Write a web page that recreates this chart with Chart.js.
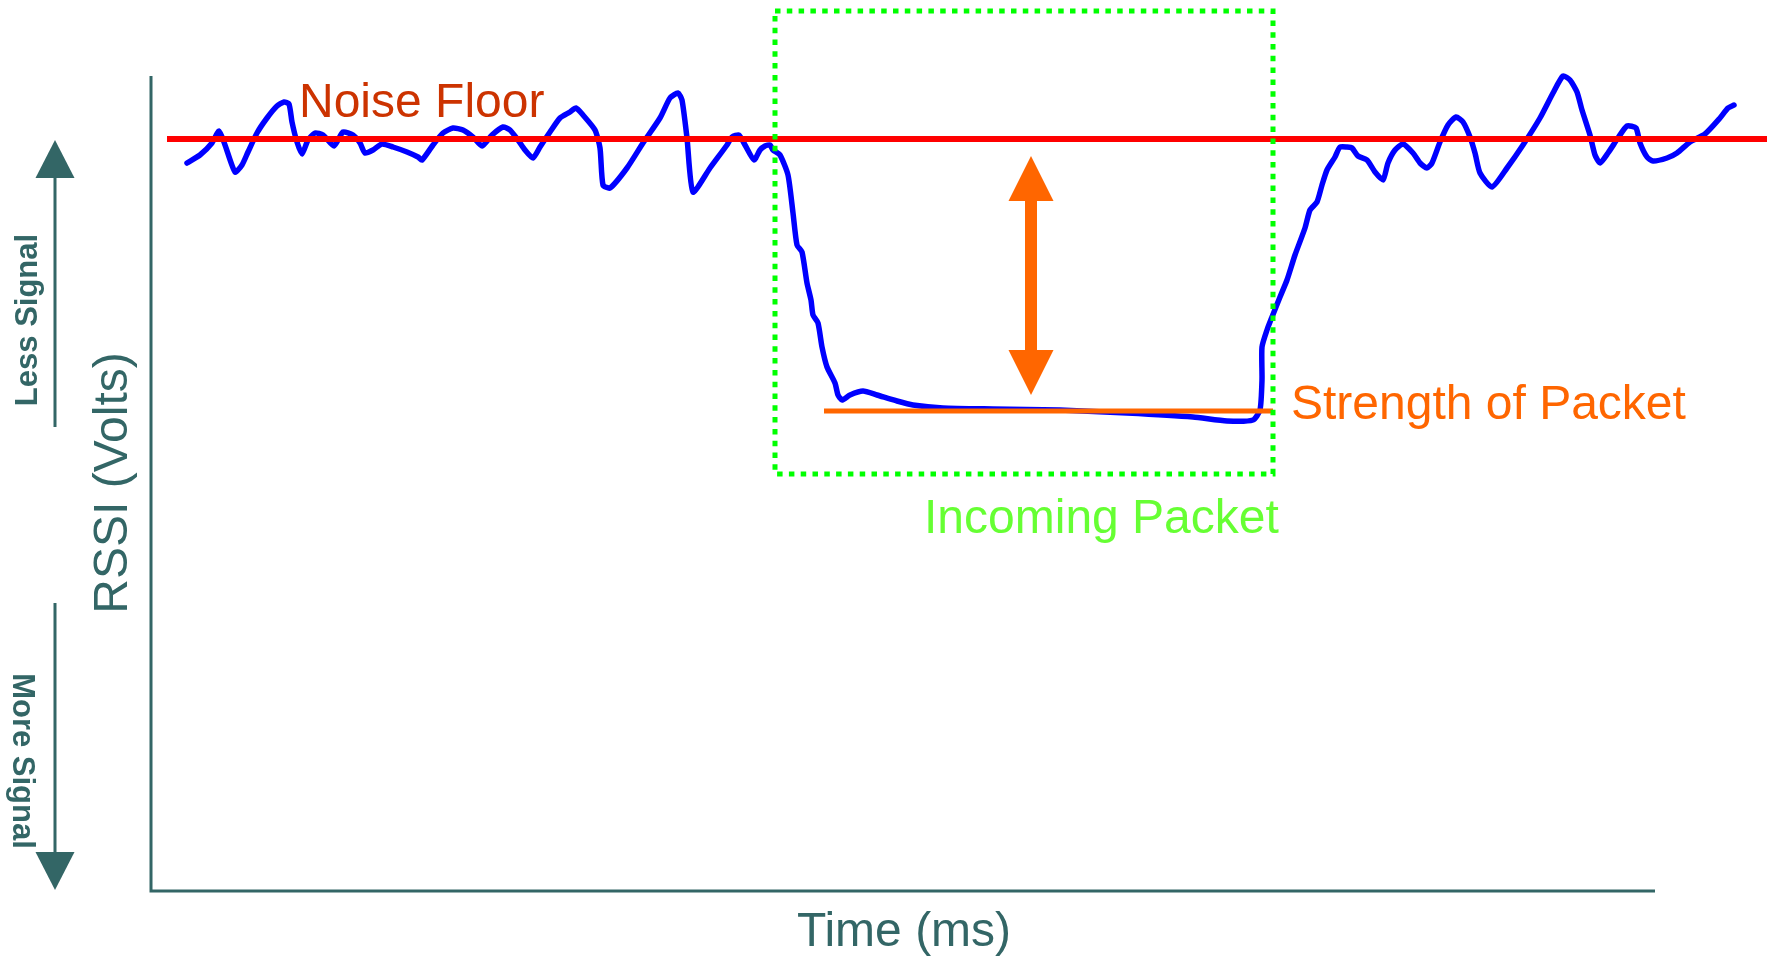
<!DOCTYPE html>
<html>
<head>
<meta charset="utf-8">
<title>RSSI - Incoming Packet</title>
<script src="https://cdn.jsdelivr.net/npm/chart.js@4.4.0/dist/chart.umd.min.js"></script>
<style>
  body { margin: 0; background: #ffffff; }
  canvas { display: block; }
</style>
</head>
<body>
<canvas id="rssi-chart" width="1771" height="957"></canvas>
<script>
// RSSI trace (time in ms, RSSI in volts)
const timeMs = [
  3.6, 4.9, 6.1, 6.8, 7.4, 8.4, 9.1, 9.7, 10.6, 11.6, 12.6, 13.3, 13.8, 14.1, 14.6,
  15.1, 15.7, 16.4, 17.2, 18.3, 19.2, 20.2, 20.9, 21.4, 22.2, 23.1, 24.2, 25.6, 26.7,
  27.1, 28.2, 29.2, 30.2, 31.2, 32.2, 33.1, 34.1, 35.2, 35.9, 36.7, 37.4, 38.2, 38.9,
  39.9, 40.9, 41.9, 42.5, 43.2, 44.4, 44.9, 45.2, 45.9, 47.6, 49.2, 50.9, 51.9, 52.7,
  53.1, 53.6, 54.2, 55.9, 57.6, 58.1, 58.8, 59.4, 60.3, 60.9, 61.4, 61.9, 62.2, 62.9,
  63.7, 64.2, 64.6, 65.1, 65.6, 66.0, 66.2, 66.7, 67.1, 67.6, 68.4, 68.7, 69.1, 69.9,
  71.2, 72.6, 74.6, 76.2, 79.2, 84.2, 90.9, 97.6, 104.2, 107.6, 110.2, 110.9, 111.1,
  111.1, 111.6, 112.1, 112.9, 113.6, 114.4, 115.4, 115.9, 116.6, 117.1, 117.6, 118.4,
  118.9, 119.6, 120.1, 120.7, 121.6, 122.4, 123.2, 123.7, 124.4, 125.2, 126.2, 126.9,
  127.6, 128.1, 128.9, 129.7, 130.5, 131.2, 131.9, 132.4, 132.9, 134.1, 135.6, 137.2,
  138.9, 140.2, 141.2, 141.9, 142.6, 143.1, 143.9, 144.4, 144.9, 145.7, 146.7, 147.6,
  148.5, 148.9, 149.6, 150.2, 151.6, 152.6, 153.9, 155.4, 156.9, 157.7, 158.3
];
const rssiVolts = [
  7.28, 7.36, 7.48, 7.60, 7.46, 7.19, 7.26, 7.39, 7.58, 7.73, 7.85, 7.89, 7.87, 7.69, 7.49,
  7.37, 7.51, 7.58, 7.56, 7.45, 7.59, 7.56, 7.48, 7.38, 7.41, 7.47, 7.44, 7.39, 7.34,
  7.31, 7.46, 7.58, 7.63, 7.61, 7.54, 7.45, 7.56, 7.64, 7.61, 7.51, 7.41, 7.33, 7.44,
  7.59, 7.73, 7.79, 7.83, 7.76, 7.61, 7.43, 7.06, 7.03, 7.23, 7.48, 7.73, 7.93, 7.98,
  7.91, 7.53, 6.99, 7.23, 7.46, 7.54, 7.56, 7.46, 7.31, 7.41, 7.45, 7.46, 7.41, 7.36,
  7.16, 6.78, 6.46, 6.39, 6.08, 5.91, 5.76, 5.68, 5.44, 5.24, 5.08, 4.96, 4.91, 4.96,
  5.00, 4.96, 4.90, 4.86, 4.83, 4.82, 4.81, 4.78, 4.74, 4.70, 4.71, 4.81, 5.11,
  5.44, 5.61, 5.74, 5.94, 6.11, 6.36, 6.63, 6.81, 6.89, 7.06, 7.21, 7.34,
  7.44, 7.44, 7.43, 7.35, 7.31, 7.19, 7.11, 7.28, 7.41, 7.47, 7.38, 7.28,
  7.23, 7.28, 7.49, 7.66, 7.74, 7.69, 7.54, 7.38, 7.18, 7.04, 7.23, 7.46,
  7.73, 7.98, 8.15, 8.11, 7.99, 7.81, 7.56, 7.36, 7.28, 7.38, 7.53, 7.65,
  7.63, 7.48, 7.34, 7.30, 7.33, 7.38, 7.49, 7.57, 7.73, 7.83, 7.86
];

// reference levels
const noiseFloorX = [1.6, 161.6];
const noiseFloorY = [7.52, 7.52];
const packetX = [67.3, 112.2];
const packetY = [4.80, 4.80];

// incoming packet window
const boxX = [62.4, 112.2, 112.2, 62.4, 62.4];
const boxY = [8.80, 8.80, 4.17, 4.17, 8.80];

// axes
const axisX = [0, 0, 150.4];
const axisY = [8.15, 0, 0];

// strength arrow (top tip, bottom tip)
const strengthArrowX = 88.0;
const strengthArrowY = [7.35, 4.96];

const TEAL = "#336666";
const FONT = '"Liberation Sans", Arial, Helvetica, sans-serif';

function toPoints(xs, ys) {
  return xs.map((x, i) => ({ x: x, y: ys[i] }));
}

function drawArrowHead(ctx, x, tipY, baseY, halfW) {
  ctx.beginPath();
  ctx.moveTo(x, tipY);
  ctx.lineTo(x - halfW, baseY);
  ctx.lineTo(x + halfW, baseY);
  ctx.closePath();
  ctx.fill();
}

function rotatedText(ctx, text, x, y, angle) {
  ctx.save();
  ctx.translate(x, y);
  ctx.rotate(angle);
  ctx.textAlign = "center";
  ctx.textBaseline = "alphabetic";
  ctx.fillText(text, 0, 0);
  ctx.restore();
}

const labelsPlugin = {
  id: "labels",
  afterDatasetsDraw(chart) {
    const ctx = chart.ctx;
    const xs = chart.scales.x;
    const ys = chart.scales.y;
    const left = chart.chartArea.left;

    ctx.save();

    // orange double arrow
    const ax = xs.getPixelForValue(strengthArrowX);
    const topTip = ys.getPixelForValue(strengthArrowY[0]);
    const botTip = ys.getPixelForValue(strengthArrowY[1]);
    ctx.fillStyle = "#ff6600";
    ctx.fillRect(ax - 6, topTip + 40, 12, botTip - topTip - 80);
    drawArrowHead(ctx, ax, topTip, topTip + 45, 22.5);
    drawArrowHead(ctx, ax, botTip, botTip - 45, 22.5);

    // left "Less / More Signal" arrows
    const sx = left - 96;
    ctx.strokeStyle = TEAL;
    ctx.fillStyle = TEAL;
    ctx.lineWidth = 3;
    const upTip = ys.getPixelForValue(7.51);
    const upEnd = ys.getPixelForValue(4.64);
    ctx.beginPath();
    ctx.moveTo(sx, upEnd);
    ctx.lineTo(sx, upTip + 30);
    ctx.stroke();
    drawArrowHead(ctx, sx, upTip, upTip + 38, 19.5);

    const downTip = ys.getPixelForValue(0.01);
    const downStart = ys.getPixelForValue(2.88);
    ctx.beginPath();
    ctx.moveTo(sx, downStart);
    ctx.lineTo(sx, downTip - 30);
    ctx.stroke();
    drawArrowHead(ctx, sx, downTip, downTip - 38, 19.5);

    ctx.font = "bold 31px " + FONT;
    rotatedText(ctx, "Less Signal", left - 114, ys.getPixelForValue(5.71), -Math.PI / 2);
    rotatedText(ctx, "More Signal", left - 138, ys.getPixelForValue(1.30), Math.PI / 2);

    // axis titles
    ctx.font = "48px " + FONT;
    ctx.fillStyle = TEAL;
    rotatedText(ctx, "RSSI (Volts)", left - 24, ys.getPixelForValue(4.08), -Math.PI / 2);
    ctx.textAlign = "center";
    ctx.textBaseline = "alphabetic";
    ctx.fillText("Time (ms)", xs.getPixelForValue(75.3), ys.getPixelForValue(-0.55));

    // annotations
    ctx.textAlign = "left";
    ctx.fillStyle = "#cc3300";
    ctx.fillText("Noise Floor", xs.getPixelForValue(14.8), ys.getPixelForValue(7.74));
    ctx.fillStyle = "#ff6600";
    ctx.fillText("Strength of Packet", xs.getPixelForValue(114.0), ys.getPixelForValue(4.72));
    ctx.fillStyle = "#66ff33";
    ctx.fillText("Incoming Packet", xs.getPixelForValue(77.3), ys.getPixelForValue(3.58));

    ctx.restore();
  },
};

const chartCanvas = document.querySelector("#rssi-chart");

new Chart(chartCanvas.getContext("2d"), {
  type: "scatter",
  data: {
    datasets: [
      {
        label: "Incoming Packet",
        data: toPoints(boxX, boxY),
        showLine: true,
        borderColor: "#00ff00",
        borderWidth: 5,
        borderDash: [5.5, 6.3],
        borderCapStyle: "butt",
        borderJoinStyle: "miter",
        pointRadius: 0,
        order: 0,
      },
      {
        label: "Noise Floor",
        data: toPoints(noiseFloorX, noiseFloorY),
        showLine: true,
        borderColor: "#ff0000",
        borderWidth: 6,
        pointRadius: 0,
        order: 1,
      },
      {
        label: "Strength of Packet",
        data: toPoints(packetX, packetY),
        showLine: true,
        borderColor: "#ff6600",
        borderWidth: 5,
        pointRadius: 0,
        order: 2,
      },
      {
        label: "RSSI",
        data: toPoints(timeMs, rssiVolts),
        showLine: true,
        borderColor: "#0000ff",
        borderWidth: 5.5,
        tension: 0.2,
        borderJoinStyle: "round",
        borderCapStyle: "round",
        pointRadius: 0,
        order: 3,
      },
      {
        label: "Axes",
        data: toPoints(axisX, axisY),
        showLine: true,
        borderColor: TEAL,
        borderWidth: 3,
        borderJoinStyle: "miter",
        pointRadius: 0,
        clip: false,
        order: 4,
      },
    ],
  },
  options: {
    responsive: false,
    animation: false,
    devicePixelRatio: 1,
    layout: {
      padding: { left: 151, top: 0, right: 0, bottom: 66 },
    },
    scales: {
      x: { type: "linear", min: 0, max: 162, display: false },
      y: { type: "linear", min: 0, max: 8.91, display: false },
    },
    plugins: {
      legend: { display: false },
      tooltip: { enabled: false },
    },
  },
  plugins: [labelsPlugin],
});
</script>
</body>
</html>
